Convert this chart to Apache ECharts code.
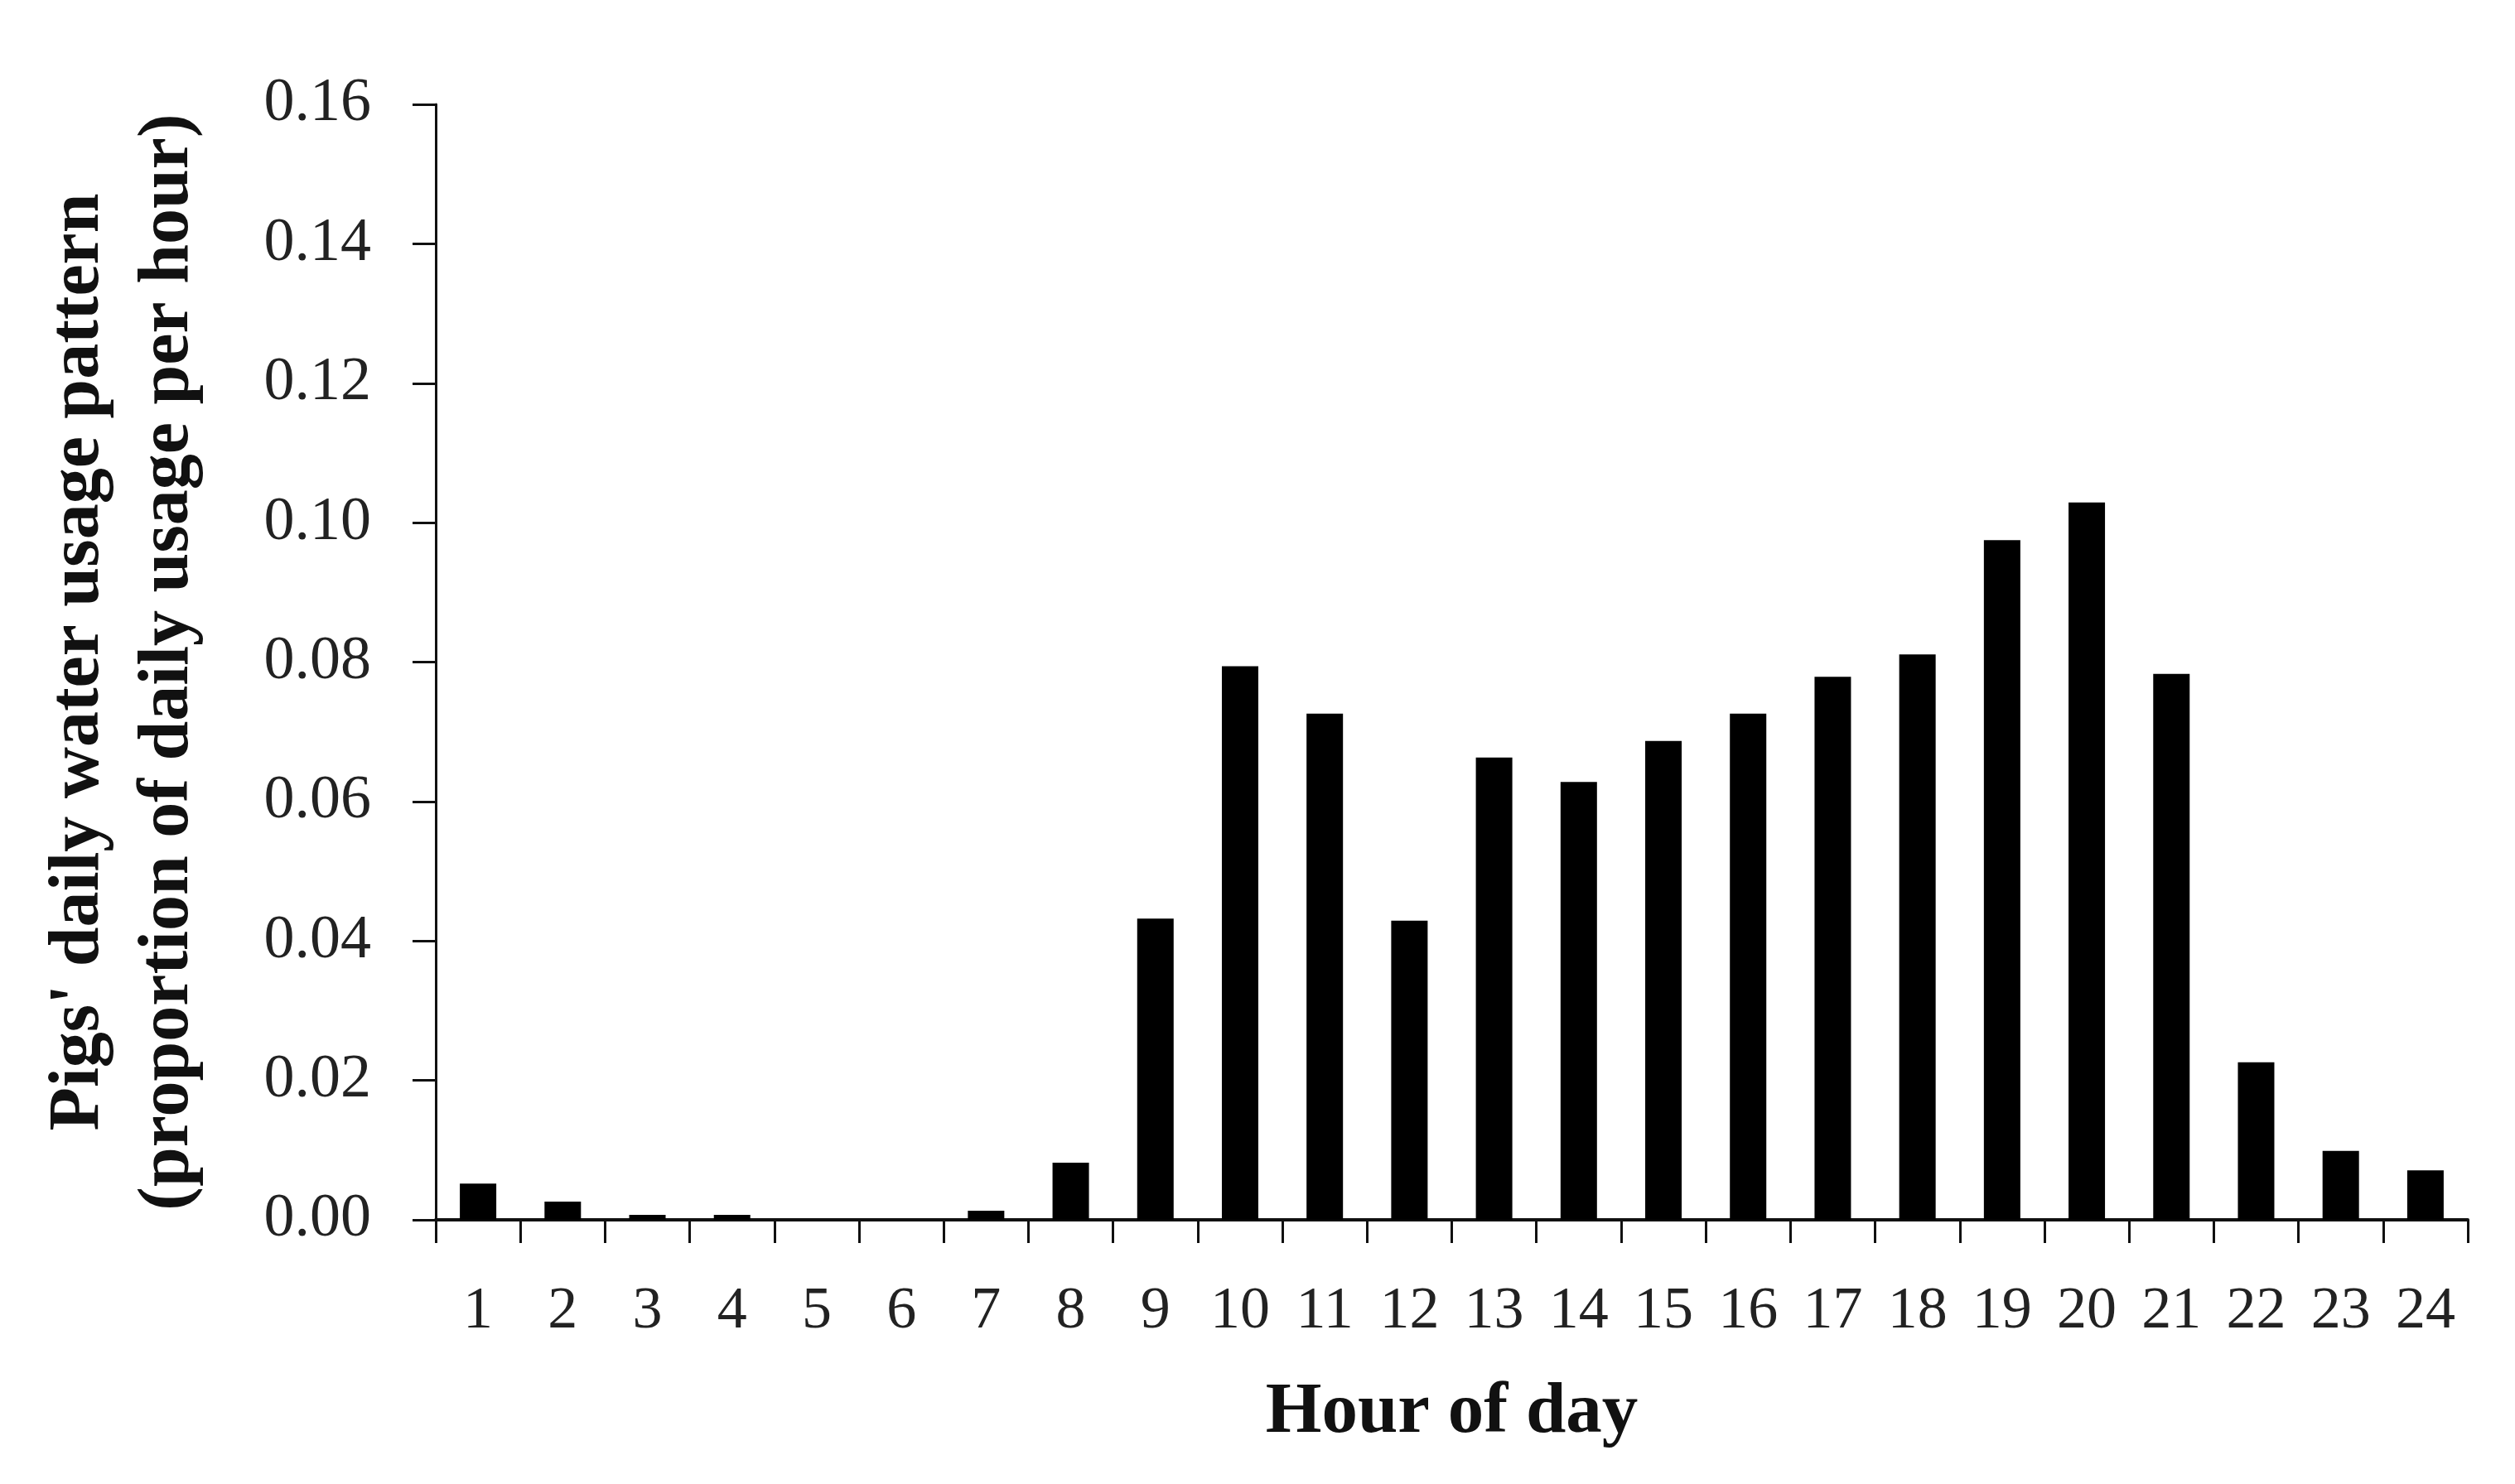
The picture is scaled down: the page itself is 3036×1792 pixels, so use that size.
<!DOCTYPE html>
<html>
<head>
<meta charset="utf-8">
<script src="https://cdn.jsdelivr.net/npm/echarts@6/dist/echarts.min.js"></script>
<style>
html,body{margin:0;padding:0;background:#fff;}
#chart{width:3036px;height:1792px;}
</style>
</head>
<body>
<div id="chart"></div>
<script>
const hours = ['1','2','3','4','5','6','7','8','9','10','11','12','13','14','15','16','17','18','19','20','21','22','23','24'];
const usage = [0.0052,0.0026,0.0007,0.0007,0,0,0.0013,0.0082,0.0432,0.0794,0.0726,0.0429,0.0663,0.0628,0.0687,0.0726,0.0779,0.0811,0.0975,0.1029,0.0783,0.0226,0.0099,0.0071];
const yTicks = {min:0, max:0.16, interval:0.02};
const xTitle = 'Hour of day';
const yTitle = "Pigs' daily water usage pattern\n(proportion of daily usage per hour)";

const chart = echarts.init(document.getElementById('chart'));
chart.setOption({
  backgroundColor:'#fff',
  animation:false,
  grid:{left:526, right:57, top:126, bottom:319, containLabel:false},
  xAxis:{
    type:'category',
    data:hours,
    name:xTitle,
    nameLocation:'middle',
    nameGap:190,
    nameTextStyle:{fontFamily:'Liberation Serif', fontWeight:'bold', fontSize:87, color:'#111'},
    axisLine:{lineStyle:{color:'#111', width:4}},
    axisTick:{show:true, interval:0, length:28, lineStyle:{color:'#111', width:3}},
    axisLabel:{interval:0, margin:75, fontFamily:'Liberation Serif', fontSize:72, color:'#222'}
  },
  yAxis:{
    type:'value',
    min:yTicks.min, max:yTicks.max, interval:yTicks.interval,
    name:yTitle,
    nameLocation:'middle',
    nameRotate:90,
    nameGap:268,
    nameTextStyle:{fontFamily:'Liberation Serif', fontWeight:'bold', fontSize:86, lineHeight:108, color:'#111', align:'center'},
    splitLine:{show:false},
    axisLine:{show:true, lineStyle:{color:'#111', width:3}},
    axisTick:{show:true, length:28, lineStyle:{color:'#111', width:3}},
    axisLabel:{margin:78, fontFamily:'Liberation Serif', fontSize:74, color:'#222', formatter:v=>v.toFixed(2)}
  },
  series:[{
    type:'bar',
    data:usage,
    barWidth:44,
    itemStyle:{color:'#000'}
  }]
});
</script>
</body>
</html>
